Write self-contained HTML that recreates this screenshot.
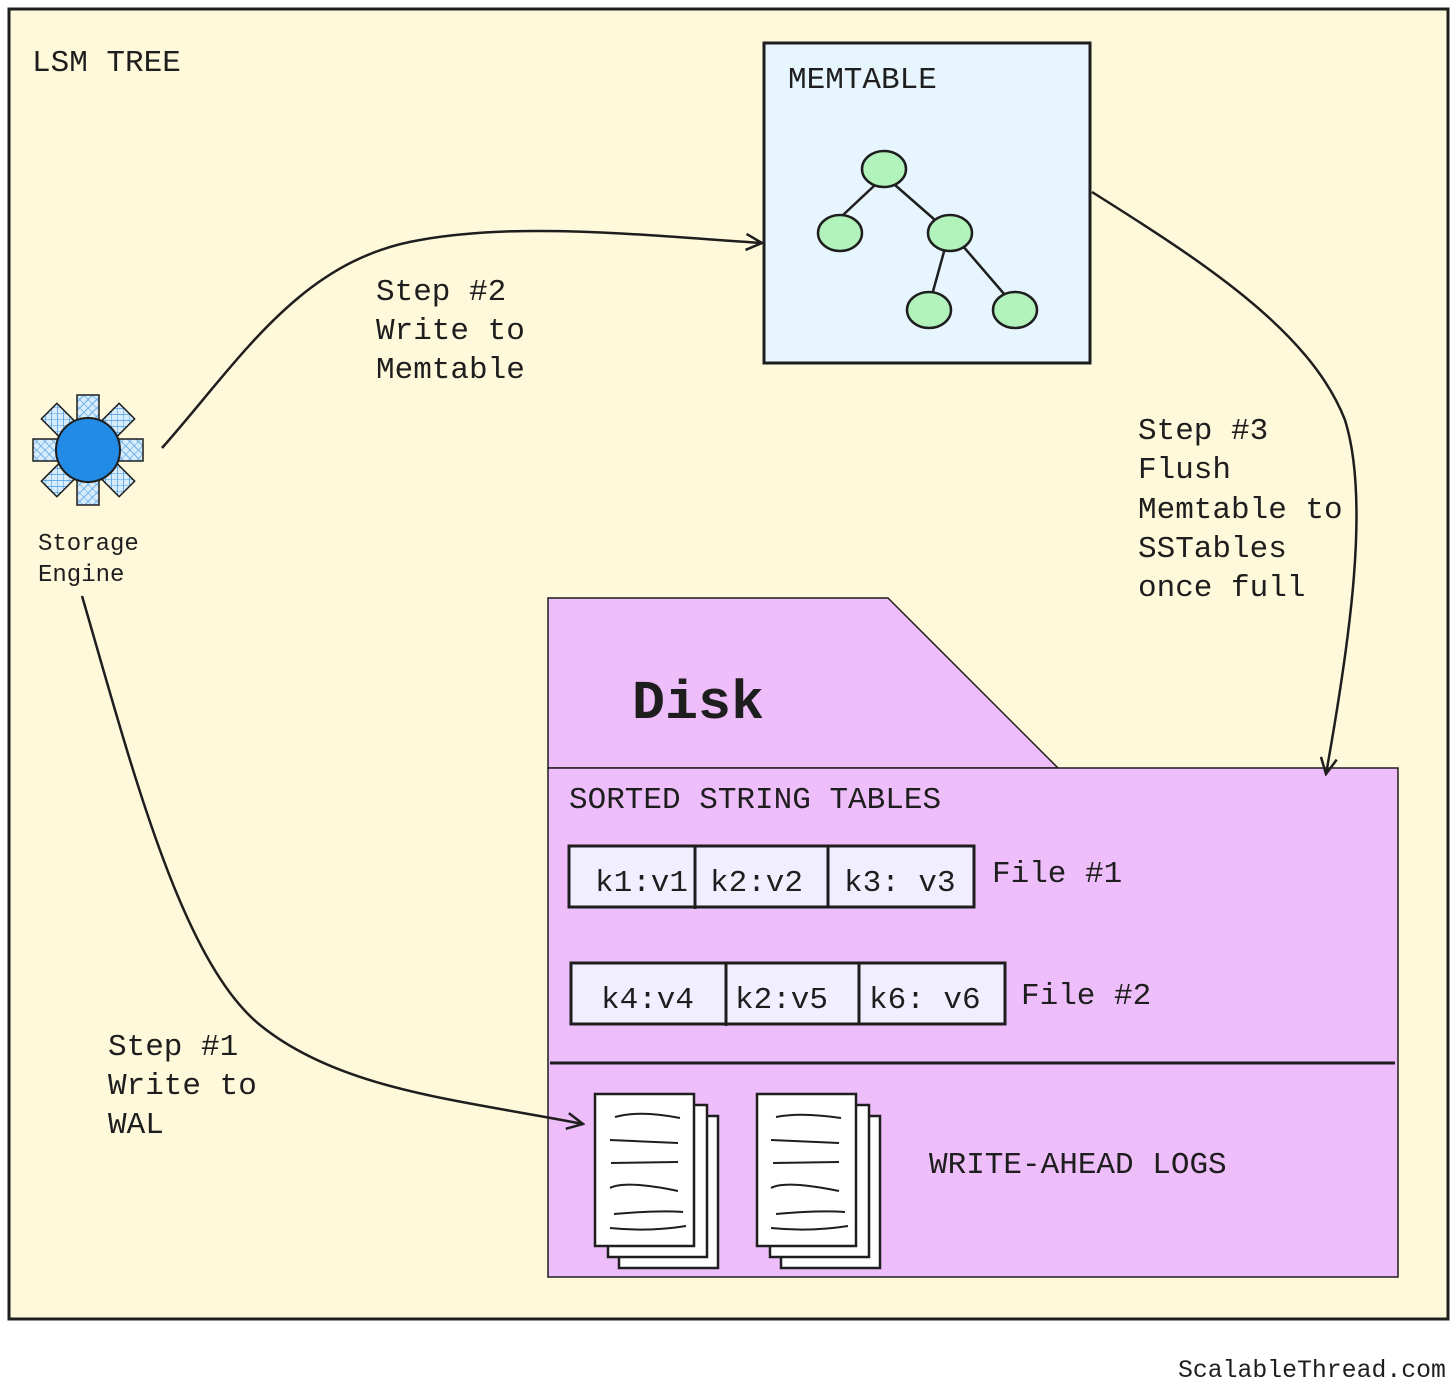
<!DOCTYPE html>
<html><head><style>html,body{margin:0;padding:0;background:#fff}svg{display:block}text{font-family:"Liberation Mono",monospace;fill:#1e1e1e}</style></head><body>
<svg width="1456" height="1392" viewBox="0 0 1456 1392" xmlns="http://www.w3.org/2000/svg">
<defs>
<pattern id="hatch" width="6" height="6" patternUnits="userSpaceOnUse" patternTransform="rotate(45)">
<rect width="6" height="6" fill="#d7ecfb"/><line x1="0" y1="0" x2="0" y2="6" stroke="#4a9be0" stroke-width="1.5"/><line x1="0" y1="0" x2="6" y2="0" stroke="#4a9be0" stroke-width="1"/>
</pattern>
<marker id="ah" markerWidth="20" markerHeight="20" refX="18" refY="10" orient="auto" markerUnits="userSpaceOnUse"><path d="M2,2 L18,10 L2,18" fill="none" stroke="#1e1e1e" stroke-width="2.5"/></marker>
</defs>
<rect x="9" y="9" width="1439" height="1310" fill="#fff9db" stroke="#1e1e1e" stroke-width="3"/>
<text x="32" y="71" font-size="31">LSM TREE</text>
<!-- memtable -->
<rect x="764" y="43" width="326" height="320" fill="#e7f5ff" stroke="#1e1e1e" stroke-width="3"/>
<text x="788" y="88" font-size="31">MEMTABLE</text>
<g stroke="#1e1e1e" stroke-width="2.5" fill="#b2f2bb">
<line x1="875" y1="185" x2="843" y2="215"/><line x1="895" y1="185" x2="935" y2="220"/>
<line x1="945" y1="248" x2="932" y2="295"/><line x1="962" y1="245" x2="1005" y2="295"/>
<ellipse cx="884" cy="169" rx="22" ry="18"/><ellipse cx="840" cy="233" rx="22" ry="18"/>
<ellipse cx="950" cy="233" rx="22" ry="18"/><ellipse cx="929" cy="310" rx="22" ry="18"/>
<ellipse cx="1015" cy="310" rx="22" ry="18"/>
</g>
<!-- storage engine -->
<g stroke="#1e1e1e" stroke-width="1.5" fill="url(#hatch)">
<g transform="translate(88,450)">
<rect x="-11" y="-55" width="22" height="110"/>
<rect x="-11" y="-55" width="22" height="110" transform="rotate(45)"/>
<rect x="-11" y="-55" width="22" height="110" transform="rotate(90)"/>
<rect x="-11" y="-55" width="22" height="110" transform="rotate(135)"/>
</g></g>
<circle cx="88" cy="450" r="32" fill="#228be6" stroke="#1e1e1e" stroke-width="2"/>
<text x="38" y="550" font-size="24">Storage</text>
<text x="38" y="581" font-size="24">Engine</text>
<!-- disk -->
<path d="M548,598 L888,598 L1058,768 L548,768 Z" fill="#eebefa" stroke="#1e1e1e" stroke-width="1.5"/>
<rect x="548" y="768" width="850" height="509" fill="#eebefa" stroke="#1e1e1e" stroke-width="1.5"/>
<text x="632" y="718" font-size="55" font-weight="bold">Disk</text>
<text x="569" y="808" font-size="31">SORTED STRING TABLES</text>
<g stroke="#1e1e1e" stroke-width="3" fill="#f1efff">
<rect x="569" y="846" width="405" height="61"/><line x1="695" y1="846" x2="695" y2="909"/><line x1="828" y1="846" x2="828" y2="907"/>
<rect x="571" y="963" width="434" height="61"/><line x1="726" y1="963" x2="726" y2="1026"/><line x1="859" y1="963" x2="859" y2="1024"/>
</g>
<text x="595" y="891" font-size="31">k1:v1</text><text x="710" y="891" font-size="31">k2:v2</text><text x="844" y="891" font-size="31">k3: v3</text>
<text x="992" y="882" font-size="31">File #1</text>
<text x="601" y="1008" font-size="31">k4:v4</text><text x="735" y="1008" font-size="31">k2:v5</text><text x="869" y="1008" font-size="31">k6: v6</text>
<text x="1021" y="1004" font-size="31">File #2</text>
<line x1="550" y1="1063" x2="1395" y2="1063" stroke="#1e1e1e" stroke-width="3"/>
<!-- docs -->
<g stroke="#1e1e1e" stroke-width="2.5" fill="#fff">
<rect x="619" y="1116" width="99" height="152"/><rect x="608" y="1105" width="99" height="152"/><rect x="595" y="1094" width="99" height="152"/>
<rect x="781" y="1116" width="99" height="152"/><rect x="770" y="1105" width="99" height="152"/><rect x="757" y="1094" width="99" height="152"/>
</g>
<g stroke="#1e1e1e" stroke-width="2" fill="none">
<path d="M615,1117 Q640,1110 680,1118 M610,1140 L678,1143 M611,1163 L678,1162 M610,1188 Q625,1180 678,1191 M614,1214 Q660,1210 683,1212 M610,1228 Q650,1232 686,1226"/>
<path d="M776,1117 Q800,1112 841,1118 M771,1140 L839,1143 M773,1163 L839,1162 M771,1188 Q785,1180 839,1191 M776,1214 Q820,1210 845,1212 M771,1228 Q810,1232 848,1226"/>
</g>
<text x="929" y="1173" font-size="31">WRITE-AHEAD LOGS</text>
<!-- arrows -->
<g stroke="#1e1e1e" stroke-width="2.5" fill="none">
<path d="M162,448 C240,360 300,260 420,240 C520,222 640,235 762,243" marker-end="url(#ah)"/>
<path d="M1092,192 C1200,260 1310,330 1345,420 C1370,500 1350,640 1326,774" marker-end="url(#ah)"/>
<path d="M82,596 C130,760 180,960 260,1025 C340,1090 460,1100 583,1124" marker-end="url(#ah)"/>
</g>
<text font-size="31"><tspan x="376" y="300">Step #2</tspan><tspan x="376" y="339">Write to</tspan><tspan x="376" y="378">Memtable</tspan></text>
<text font-size="31"><tspan x="1138" y="439">Step #3</tspan><tspan x="1138" y="478">Flush</tspan><tspan x="1138" y="518">Memtable to</tspan><tspan x="1138" y="557">SSTables</tspan><tspan x="1138" y="596">once full</tspan></text>
<text font-size="31"><tspan x="108" y="1055">Step #1</tspan><tspan x="108" y="1094">Write to</tspan><tspan x="108" y="1133">WAL</tspan></text>
<text x="1178" y="1377" font-size="24.8">ScalableThread.com</text>
</svg>
</body></html>
